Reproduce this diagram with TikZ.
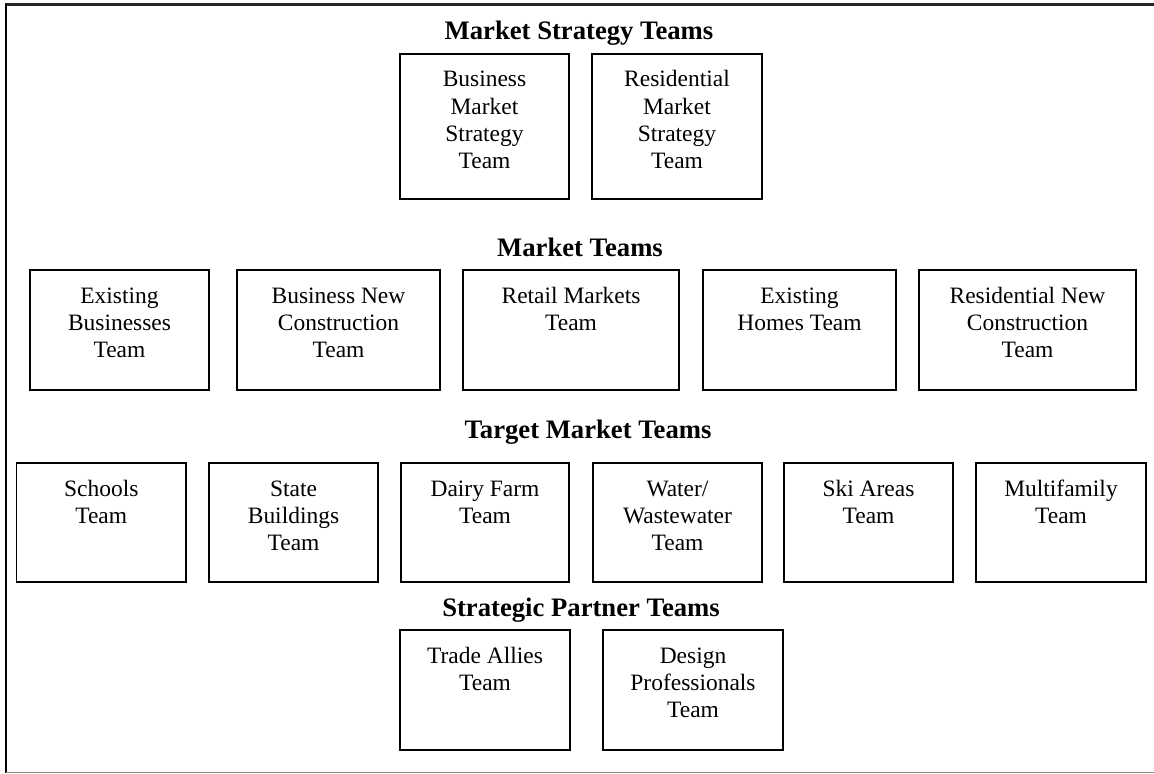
\documentclass[tikz,border=0pt]{standalone}
\usepackage{fontspec}
\setmainfont{Liberation Serif}
\usepackage{array}
\begin{document}
\begin{tikzpicture}[x=0.75pt,y=-0.75pt,
  teambox/.style={draw=black,line width=1.1pt,inner sep=0pt},
  boxtext/.style={inner sep=0pt,anchor=base,font=\fontsize{17.6pt}{20.5pt}\selectfont},
  grouptitle/.style={inner sep=0pt,anchor=base,font=\fontsize{20pt}{24pt}\selectfont\bfseries}]
\useasboundingbox (0,0) rectangle (1154,774);
% frame
\draw[line width=1.6pt,black!85] (5,4.5) -- (1154,4.5);
\draw[line width=1.6pt,black] (6,4) -- (6,773);
\draw[line width=1.2pt,black!45] (6,772.5) -- (1154,772.5);
\newcommand{\tbox}[6]{%
  \node[teambox,minimum width={(#3-#2)*0.75pt},minimum height={(#5-#4)*0.75pt}] (#1) at ({(#2+#3)/2},{(#4+#5)/2}) {};
  \node[boxtext] (#1t) at ({(#2+#3)/2},{#4+33}) {\begin{tabular}[t]{@{}c@{}}#6\end{tabular}};}
% Market Strategy Teams
\node[grouptitle] (ms) at (579,40) {Market Strategy Teams};
\tbox{ms1}{400}{569}{54}{199}{Business\\Market\\Strategy\\Team}
\tbox{ms2}{592}{762}{54}{199}{Residential\\Market\\Strategy\\Team}
% Market Teams
\node[grouptitle] (mt) at (580,256) {Market Teams};
\tbox{mt1}{30}{209}{270}{390}{Existing\\Businesses\\Team}
\tbox{mt2}{237}{440}{270}{390}{Business New\\Construction\\Team}
\tbox{mt3}{463}{679}{270}{390}{Retail Markets\\Team}
\tbox{mt4}{703}{896}{270}{390}{Existing\\Homes Team}
\tbox{mt5}{919}{1136}{270}{390}{Residential New\\Construction\\Team}
% Target Market Teams
\node[grouptitle] (tm) at (588,438) {Target Market Teams};
\tbox{tm1}{16.5}{186}{463}{582}{Schools\\Team}
\tbox{tm2}{209}{378}{463}{582}{State\\Buildings\\Team}
\tbox{tm3}{401}{569}{463}{582}{Dairy Farm\\Team}
\tbox{tm4}{593}{762}{463}{582}{Water/\\Wastewater\\Team}
\tbox{tm5}{784}{953}{463}{582}{Ski Areas\\Team}
\tbox{tm6}{976}{1146}{463}{582}{Multifamily\\Team}
% Strategic Partner Teams
\node[grouptitle] (sp) at (581,616) {Strategic Partner Teams};
\tbox{sp1}{400}{570}{630}{750}{Trade Allies\\Team}
\tbox{sp2}{603}{783}{630}{750}{Design\\Professionals\\Team}
\end{tikzpicture}
\end{document}
